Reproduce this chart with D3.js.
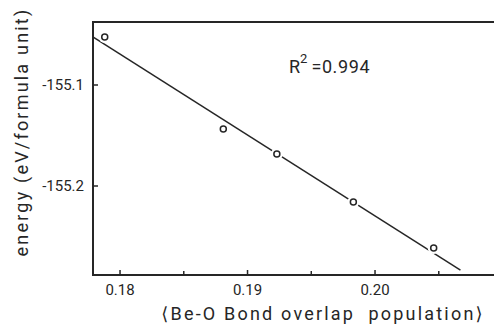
<!DOCTYPE html>
<html>
<head>
<meta charset="utf-8">
<script src="https://cdn.jsdelivr.net/npm/d3@7"></script>
<style>
  html, body { margin: 0; padding: 0; background: #fff; }
  svg { display: block; font-family: Roboto, "DejaVu Sans", sans-serif; }
</style>
</head>
<body>
<div id="chart"></div>
<script>
// bond overlap population vs. energy
const overlapPop = [0.1788, 0.1881, 0.1923, 0.1983, 0.2046];
const energy = [-155.0525, -155.1436, -155.1683, -155.2158, -155.2614];

// fitted line ends
const fitX = [0.1779, 0.2067];
const fitY = [-155.0525, -155.2832];

const xMajor = [0.18, 0.19, 0.20];
const xMinor = [0.185, 0.195, 0.205];
const xTickLabels = ["0.18", "0.19", "0.20"];
const yTicks = [-155.1, -155.2];
const yTickLabels = ["-155.1", "-155.2"];

const width = 494, height = 326;
const boxLeft = 93, boxTop = 22, boxRight = 500, boxBottom = 275;
const ink = "#262626";

const svg = d3.select("#chart").append("svg")
    .attr("width", width)
    .attr("height", height);

const x = d3.scaleLinear().domain([0.17788, 0.21]).range([boxLeft, boxLeft + (0.21 - 0.17788) * 12750]);
const y = d3.scaleLinear().domain([-155.1, -155.2]).range([85, 186]);

// frame: left, top and bottom (right side falls outside the picture)
svg.append("path")
    .attr("d", `M${boxRight},${boxTop}H${boxLeft}V${boxBottom}H${boxRight}`)
    .attr("fill", "none")
    .attr("stroke", ink)
    .attr("stroke-width", 2);

// x ticks, pointing inward
svg.selectAll(".xmaj")
    .data(xMajor)
    .enter().append("line")
    .attr("x1", d => x(d)).attr("x2", d => x(d))
    .attr("y1", boxBottom).attr("y2", boxBottom - 5)
    .attr("stroke", ink).attr("stroke-width", 1.5);

svg.selectAll(".xmin")
    .data(xMinor)
    .enter().append("line")
    .attr("x1", d => x(d)).attr("x2", d => x(d))
    .attr("y1", boxBottom).attr("y2", boxBottom - 4)
    .attr("stroke", ink).attr("stroke-width", 1.5);

svg.selectAll(".xlab")
    .data(xMajor)
    .enter().append("text")
    .attr("x", d => x(d))
    .attr("y", 295)
    .attr("text-anchor", "middle")
    .attr("font-size", 15)
    .attr("fill", ink)
    .text((d, i) => xTickLabels[i]);

// y ticks
svg.selectAll(".ytick")
    .data(yTicks)
    .enter().append("line")
    .attr("x1", boxLeft).attr("x2", boxLeft + 5)
    .attr("y1", d => y(d)).attr("y2", d => y(d))
    .attr("stroke", ink).attr("stroke-width", 1.5);

svg.selectAll(".ylab")
    .data(yTicks)
    .enter().append("text")
    .attr("x", 84)
    .attr("y", d => y(d) + 5)
    .attr("text-anchor", "end")
    .attr("font-size", 15)
    .attr("fill", ink)
    .text((d, i) => yTickLabels[i]);

// fit line
svg.append("line")
    .attr("x1", x(fitX[0])).attr("y1", y(fitY[0]))
    .attr("x2", x(fitX[1])).attr("y2", y(fitY[1]))
    .attr("stroke", ink)
    .attr("stroke-width", 1.5);

// points: white halo breaks the line around each marker
const pts = overlapPop.map((d, i) => ({ x: d, y: energy[i] }));
svg.selectAll(".halo")
    .data(pts)
    .enter().append("circle")
    .attr("cx", d => x(d.x)).attr("cy", d => y(d.y))
    .attr("r", 6)
    .attr("fill", "#fff");

svg.selectAll(".pt")
    .data(pts)
    .enter().append("circle")
    .attr("cx", d => x(d.x)).attr("cy", d => y(d.y))
    .attr("r", 3)
    .attr("fill", "none")
    .attr("stroke", ink)
    .attr("stroke-width", 1.5);

// R^2 note
const r2 = svg.append("text")
    .attr("x", 289).attr("y", 73)
    .attr("font-size", 18)
    .attr("fill", ink);
r2.append("tspan").text("R");
r2.append("tspan").attr("dy", -10).attr("font-size", 13).text("2");
r2.append("tspan").attr("dy", 10).attr("dx", 4).attr("letter-spacing", 0.6).text("=0.994");

// axis titles
svg.append("text")
    .attr("x", 323).attr("y", 320)
    .attr("text-anchor", "middle")
    .attr("font-size", 18)
    .attr("fill", ink)
    .attr("letter-spacing", 2.2)
    .style("white-space", "pre")
    .text("\u27E8Be-O Bond overlap  population\u27E9");

svg.append("text")
    .attr("transform", "translate(28,132) rotate(-90)")
    .attr("text-anchor", "middle")
    .attr("font-size", 18)
    .attr("fill", ink)
    .attr("letter-spacing", 2.2)
    .text("energy (eV/formula unit)");
</script>
</body>
</html>
